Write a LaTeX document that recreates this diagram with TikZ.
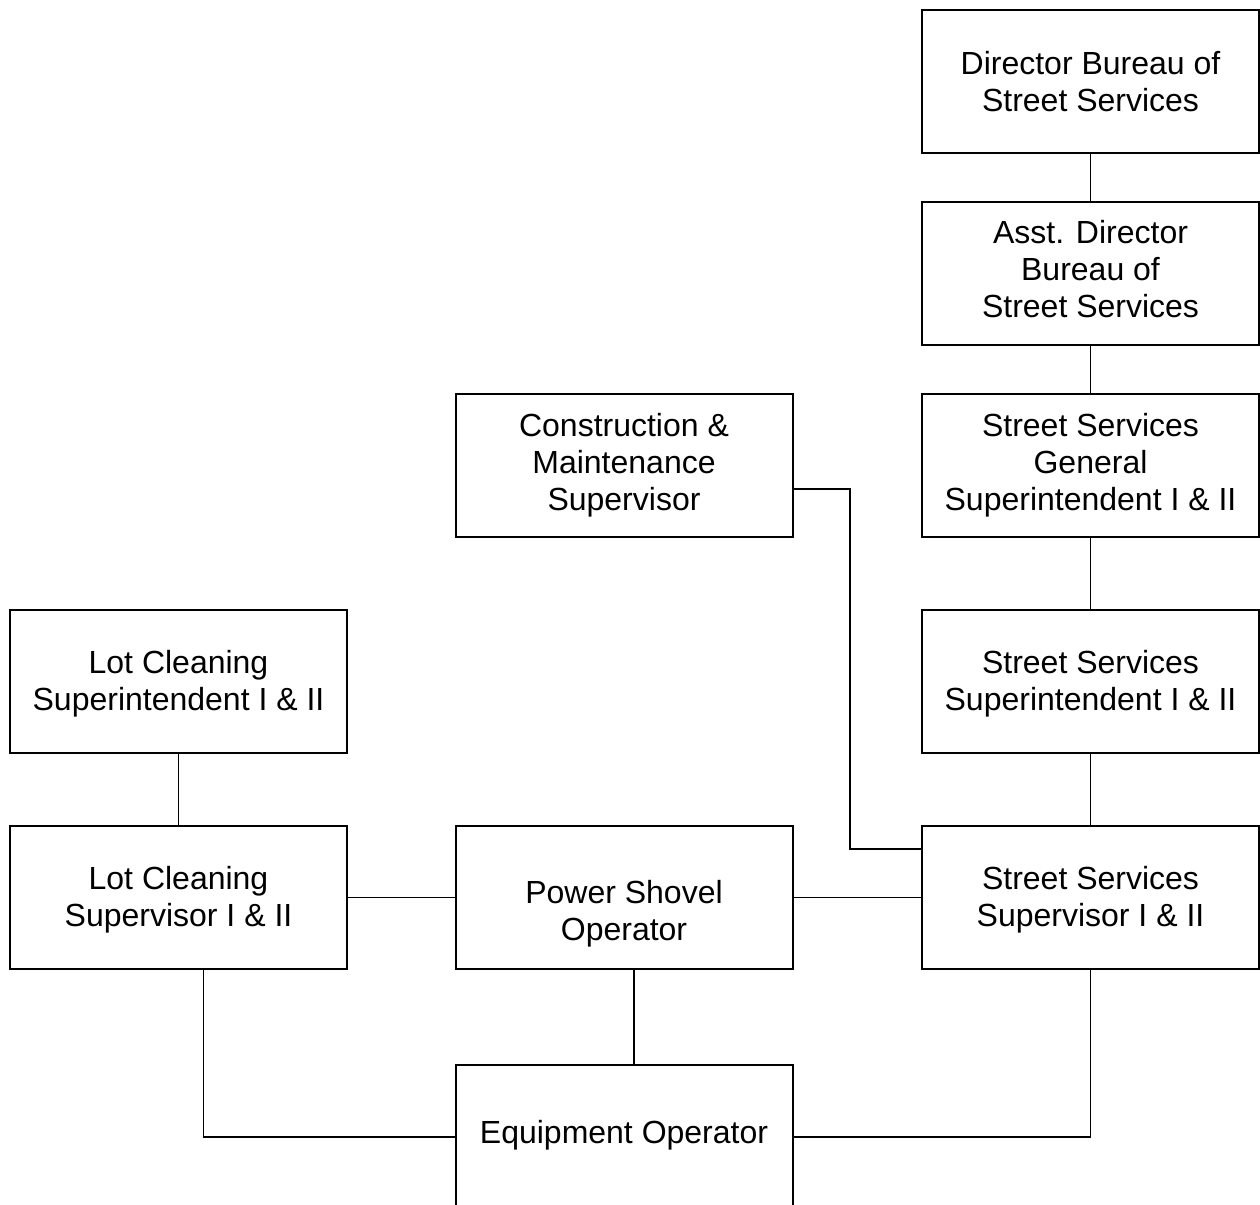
\documentclass[tikz,border=0pt]{standalone}
\usepackage{fontspec}
\setmainfont{Liberation Sans}
\begin{document}
\begin{tikzpicture}[x=0.75pt,y=-0.75pt,
  box/.style={draw=black,line width=1.5pt,minimum width=252.75pt,minimum height=107.25pt,
    inner sep=0pt,align=center,font=\fontsize{24}{27.75}\selectfont},
  txt/.style={inner sep=0pt,align=center,font=\fontsize{24}{27.75}\selectfont},
  conn/.style={draw=black,line width=1.1pt}]
\useasboundingbox (0,0) rectangle (1260,1205);
\begin{scope}
\clip (0,0) rectangle (1260,1205);
\node[box] (dir) at (1090.5,81.5) {Director Bureau of\\Street Services};
\node[box] (asst) at (1090.5,273.5) {};
\node[txt] (asstt) at ([yshift=3.5pt]asst.center) {Asst. Director\\Bureau of\\Street Services};
\node[box] (gen) at (1090.5,465.5) {Street Services\\General\\Superintendent I \& II};
\node[box] (cons) at (624,465.5) {Construction \&\\Maintenance\\Supervisor};
\node[box] (ssup) at (1090.5,681.5) {};
\node[txt] (ssupt) at ([yshift=-2pt]ssup.center) {Street Services\\Superintendent I \& II};
\node[box] (lsup) at (178.5,681.5) {};
\node[txt] (lsupt) at ([yshift=-2pt]lsup.center) {Lot Cleaning\\Superintendent I \& II};
\node[box] (lsv) at (178.5,897.5) {};
\node[txt] (lsvt) at ([yshift=-2pt]lsv.center) {Lot Cleaning\\Supervisor I \& II};
\node[box] (pso) at (624,897.5) {};
\node[txt] (psot) at ([yshift=-12pt]pso.center) {Power Shovel\\Operator};
\node[box] (ssv) at (1090.5,897.5) {};
\node[txt] (ssvt) at ([yshift=-2pt]ssv.center) {Street Services\\Supervisor I \& II};
\node[box,minimum height=111pt] (eqp) at (624,1139) {};
\node[txt] (eqpt) at ([yshift=3pt]eqp.center) {Equipment Operator};
\end{scope}
\coordinate (bend) at (850,489);
\draw[conn] (dir.south) -- (asst.north);
\draw[conn] (asst.south) -- (gen.north);
\draw[conn] (gen.south) -- (ssup.north);
\draw[conn] (ssup.south) -- (ssv.north);
\draw[conn] (lsup.south) -- (lsv.north);
\draw[conn] (lsv.east) -- (pso.west);
\draw[conn] (pso.east) -- (ssv.west);
\draw[conn] ([xshift=7.5pt]pso.south) -- ([xshift=7.5pt]eqp.north);
\draw[conn] (cons.east |- bend) -- (bend) |- ([yshift=36.4pt]ssv.west);
\draw[conn] ([xshift=18.75pt]lsv.south) |- (eqp.west |- 0,1137);
\draw[conn] (ssv.south) |- (eqp.east |- 0,1137);
\end{tikzpicture}
\end{document}
